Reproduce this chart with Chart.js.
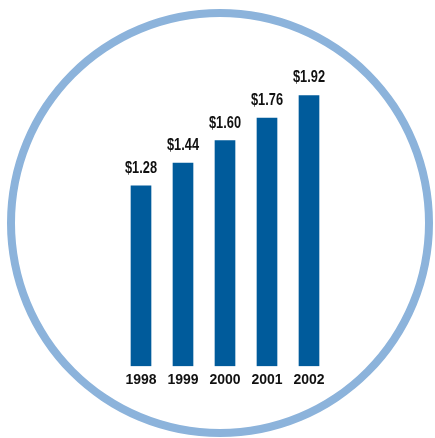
<!DOCTYPE html>
<html>
<head>
<meta charset="utf-8">
<script src="https://cdn.jsdelivr.net/npm/chart.js@4"></script>
<style>
  body { margin: 0; background: #fff; }
  .wrap { position: relative; width: 435px; height: 438px; overflow: hidden; }
  .ring {
    position: absolute;
    left: 7px; top: 9px;
    width: 410px; height: 412px;
    border: 8px solid #8cb3db;
    border-radius: 50%;
  }
  canvas { position: absolute; left: 0; top: 0; }
</style>
</head>
<body>
<div class="wrap">
  <div class="ring"></div>
  <canvas id="priceChart" width="435" height="438"></canvas>
</div>
<script>
const years = ['1998', '1999', '2000', '2001', '2002'];
const prices = [1.28, 1.44, 1.60, 1.76, 1.92];

const fontFamily = "'Liberation Sans', Arial, sans-serif";

// price labels above each bar, squeezed a bit to look condensed
const valueLabels = {
    id: 'valueLabels',
    afterDatasetsDraw(chart) {
        const ctx = chart.ctx;
        const meta = chart.getDatasetMeta(0);
        ctx.save();
        ctx.font = 'bold 16px ' + fontFamily;
        ctx.fillStyle = '#111';
        ctx.textAlign = 'center';
        ctx.textBaseline = 'alphabetic';
        meta.data.forEach((bar, i) => {
            ctx.save();
            ctx.translate(bar.x, bar.y - 13);
            ctx.scale(0.8, 1);
            ctx.fillText('$' + prices[i].toFixed(2), 0, 0);
            ctx.restore();
        });
        ctx.restore();
    }
};

new Chart(document.getElementById('priceChart'), {
    type: 'bar',
    data: {
        labels: years,
        datasets: [{
            data: prices,
            backgroundColor: '#005b9b',
            barThickness: 20
        }]
    },
    options: {
        responsive: false,
        animation: false,
        layout: {
            padding: { left: 120, right: 105, top: 56, bottom: 43 }
        },
        plugins: {
            legend: { display: false },
            tooltip: { enabled: false }
        },
        scales: {
            y: {
                display: false,
                min: 0,
                max: 2.2
            },
            x: {
                grid: { display: false, drawTicks: false },
                border: { display: false },
                ticks: {
                    padding: 6,
                    maxRotation: 0,
                    minRotation: 0,
                    autoSkip: false,
                    color: '#111',
                    font: {
                        family: fontFamily,
                        size: 14,
                        weight: 'bold'
                    }
                }
            }
        }
    },
    plugins: [valueLabels]
});
</script>
</body>
</html>
